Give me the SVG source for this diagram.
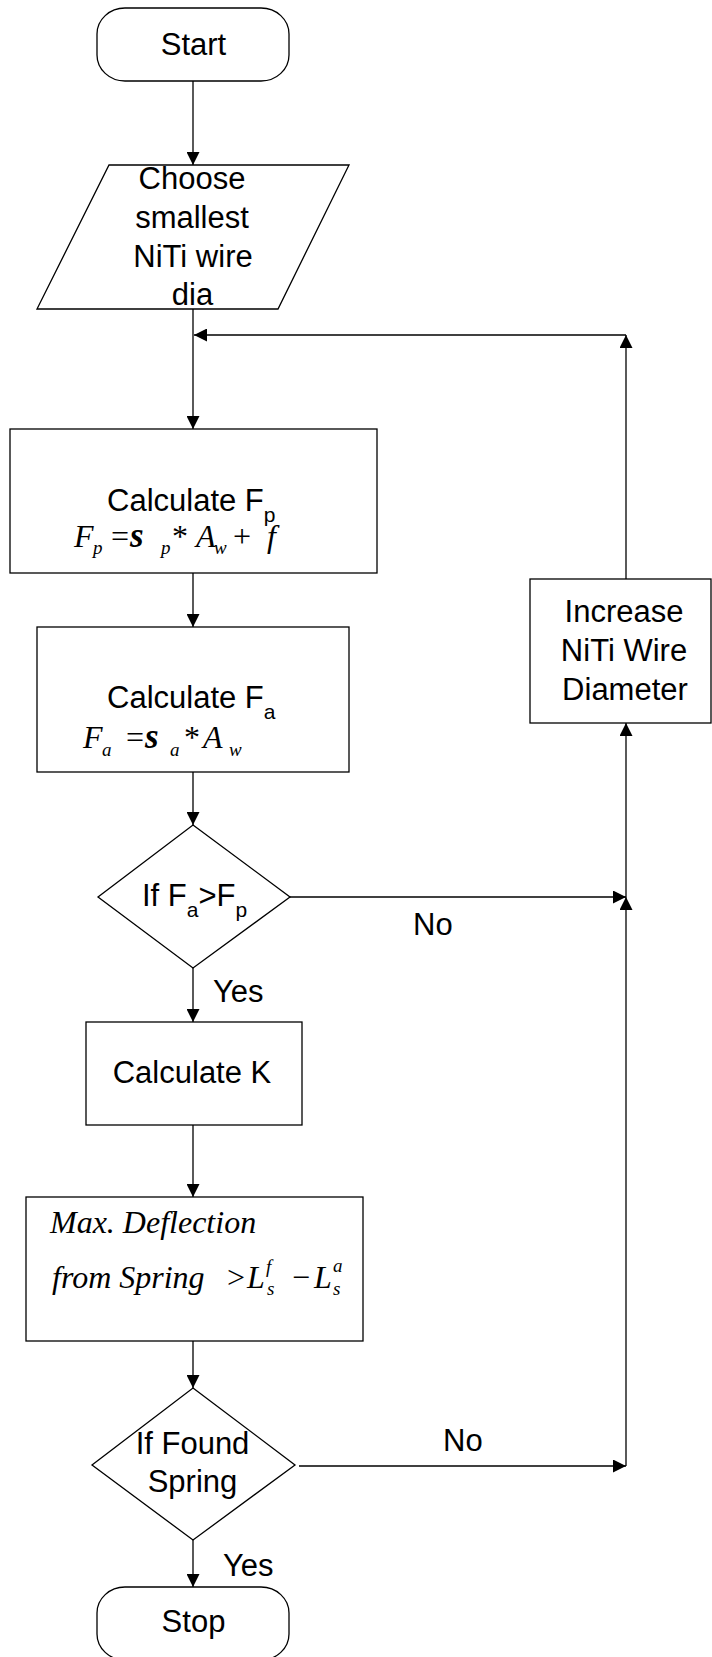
<svg xmlns="http://www.w3.org/2000/svg" width="712" height="1657" viewBox="0 0 712 1657">
<defs>
<style>
.s{fill:#fff;stroke:#000;stroke-width:1.3}
.c{fill:none;stroke:#000;stroke-width:1.3}
.t{font-family:"Liberation Sans",Arial,sans-serif;font-size:31px;fill:#000}
.m{font-family:"Liberation Serif","Times New Roman",serif;font-size:32px;font-style:italic;fill:#000}
.mx{font-size:32px}
.u{font-style:normal}
.b{font-weight:bold;font-size:35px}
.sub{font-size:21px}
.ms{font-size:19px}
</style>
<marker id="ah" viewBox="0 0 13 13" refX="13" refY="6.5" markerWidth="13" markerHeight="13" markerUnits="userSpaceOnUse" orient="auto">
<path d="M0,0 L13,6.5 L0,13 z" fill="#000"/>
</marker>
</defs>
<rect width="712" height="1657" fill="#fff"/>
<g id="connectors">
<line class="c" x1="193" y1="81" x2="193" y2="165" marker-end="url(#ah)"/>
<line class="c" x1="193" y1="309" x2="193" y2="429" marker-end="url(#ah)"/>
<line class="c" x1="193" y1="573" x2="193" y2="627" marker-end="url(#ah)"/>
<line class="c" x1="193" y1="772" x2="193" y2="825" marker-end="url(#ah)"/>
<line class="c" x1="193" y1="968" x2="193" y2="1022" marker-end="url(#ah)"/>
<line class="c" x1="193" y1="1125" x2="193" y2="1197" marker-end="url(#ah)"/>
<line class="c" x1="193" y1="1341" x2="193" y2="1388" marker-end="url(#ah)"/>
<line class="c" x1="193" y1="1540" x2="193" y2="1587" marker-end="url(#ah)"/>
<line class="c" x1="290" y1="897" x2="626" y2="897" marker-end="url(#ah)"/>
<line class="c" x1="299" y1="1466" x2="626" y2="1466" marker-end="url(#ah)"/>
<line class="c" x1="626" y1="1466" x2="626" y2="897" marker-end="url(#ah)"/>
<line class="c" x1="626" y1="897" x2="626" y2="723" marker-end="url(#ah)"/>
<line class="c" x1="626" y1="579" x2="626" y2="335" marker-end="url(#ah)"/>
<line class="c" x1="626" y1="335" x2="194" y2="335" marker-end="url(#ah)"/>
<text class="t" x="213" y="1002">Yes</text>
<text class="t" x="223" y="1576">Yes</text>
<text class="t" x="413" y="935">No</text>
<text class="t" x="443" y="1451">No</text>
</g>
<g id="start">
<rect class="s" x="97" y="8" width="192" height="73" rx="28" ry="26"/>
<text class="t" x="193.5" y="55" text-anchor="middle">Start</text>
</g>
<g id="choose">
<polygon class="s" points="109,165 349,165 278,309 37,309"/>
<text class="t" text-anchor="middle"><tspan x="192" y="189">Choose</tspan><tspan x="192" y="228">smallest</tspan><tspan x="193" y="267">NiTi wire</tspan><tspan x="192.5" y="305">dia</tspan></text>
</g>
<g id="calc-fp">
<rect class="s" x="10" y="429" width="367" height="144"/>
<text class="t" x="107" y="511">Calculate F<tspan class="sub" dy="11">p</tspan></text>
<text class="m" y="547"><tspan x="74">F</tspan><tspan class="ms" x="93" y="554">p</tspan><tspan class="u" x="111" y="547">=</tspan><tspan class="b" x="130">s</tspan><tspan class="ms" x="161" y="554">p</tspan><tspan class="u" x="172" y="547">*</tspan><tspan x="196">A</tspan><tspan class="ms" x="214" y="554">w</tspan><tspan class="u" x="233" y="547">+</tspan><tspan x="267">f</tspan></text>
</g>
<g id="calc-fa">
<rect class="s" x="37" y="627" width="312" height="145"/>
<text class="t" x="107" y="708">Calculate F<tspan class="sub" dy="11">a</tspan></text>
<text class="m" y="748"><tspan x="83">F</tspan><tspan class="ms" x="102" y="756">a</tspan><tspan class="u" x="126" y="748">=</tspan><tspan class="b" x="145">s</tspan><tspan class="ms" x="170" y="756">a</tspan><tspan class="u" x="184" y="748">*</tspan><tspan x="203">A</tspan><tspan class="ms" x="229" y="756">w</tspan></text>
</g>
<g id="decision-force">
<polygon class="s" points="193,825 290,897 193,968 98,897"/>
<text class="t" x="142" y="906">If F<tspan class="sub" dy="11">a</tspan><tspan dy="-11">&gt;F</tspan><tspan class="sub" dy="11">p</tspan></text>
</g>
<g id="calc-k">
<rect class="s" x="86" y="1022" width="216" height="103"/>
<text class="t" x="192" y="1083" text-anchor="middle">Calculate K</text>
</g>
<g id="max-deflection">
<rect class="s" x="26" y="1197" width="337" height="144"/>
<text class="m mx" x="50" y="1233">Max. Deflection</text>
<text class="m mx" y="1288"><tspan x="52">from Spring</tspan><tspan class="u" x="227">&gt;</tspan><tspan x="247">L</tspan><tspan class="ms" x="266" y="1273">f</tspan><tspan class="ms" x="267" y="1295">s</tspan><tspan class="u" x="292" y="1288">−</tspan><tspan x="314">L</tspan><tspan class="ms" x="333" y="1272">a</tspan><tspan class="ms" x="333" y="1295">s</tspan></text>
</g>
<g id="decision-spring">
<polygon class="s" points="193,1388 295,1465 193,1540 92,1465"/>
<text class="t" text-anchor="middle"><tspan x="192.5" y="1454">If Found</tspan><tspan x="192.5" y="1492">Spring</tspan></text>
</g>
<g id="stop">
<rect class="s" x="97" y="1587" width="192" height="73" rx="28" ry="26"/>
<text class="t" x="193.5" y="1632" text-anchor="middle">Stop</text>
</g>
<g id="increase">
<rect class="s" x="530" y="579" width="181" height="144"/>
<text class="t" text-anchor="middle"><tspan x="624" y="622">Increase</tspan><tspan x="624" y="661">NiTi Wire</tspan><tspan x="625" y="700">Diameter</tspan></text>
</g>
</svg>
